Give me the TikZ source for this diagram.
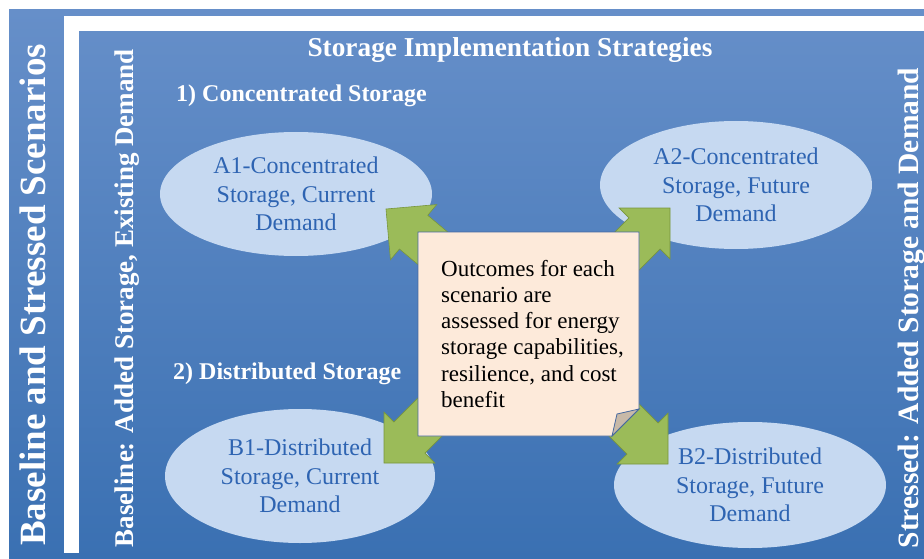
\documentclass[tikz,border=0pt]{standalone}
\usepackage{fontspec}
\setmainfont{Liberation Serif}
\usetikzlibrary{shapes.geometric}

\definecolor{bgtop}{RGB}{102,143,201}
\definecolor{bgbot}{RGB}{58,112,178}
\definecolor{ovalfill}{RGB}{198,217,241}
\definecolor{ovaltext}{RGB}{46,100,178}
\definecolor{arrowgreen}{RGB}{155,187,89}
\definecolor{arrowedge}{RGB}{120,150,60}
\definecolor{notefill}{RGB}{253,234,218}
\definecolor{noteedge}{RGB}{70,105,160}
\definecolor{foldfill}{RGB}{200,185,168}

\begin{document}
\begin{tikzpicture}[x=1pt,y=-1pt,
  scen/.style={ellipse,fill=ovalfill,text=ovaltext,inner sep=0pt,align=center,
    font=\fontsize{24}{28.5}\selectfont},
  heading/.style={text=white,font=\bfseries\fontsize{24}{28}\selectfont,inner sep=0pt},
  sidetext/.style={text=white,rotate=90,inner sep=0pt},
  bigarrow/.style={fill=arrowgreen,draw=arrowedge,line width=0.6pt,line join=miter},
  notebox/.style={fill=notefill,draw=noteedge,line width=0.8pt},
  notetext/.style={align=left,inner sep=0pt,font=\fontsize{23}{26.2}\selectfont}]

\useasboundingbox (0,0) rectangle (924,559);
\shade[top color=bgtop,bottom color=bgbot] (9,10) rectangle (924,559);
\fill[white] (64,16) rectangle (924,31);
\fill[white] (64,16) rectangle (79,553);

\node[sidetext,font=\bfseries\fontsize{37}{40}\selectfont] (scenarios) at (33,295) {Baseline and Stressed Scenarios};
\node[sidetext,font=\bfseries\fontsize{27}{30}\selectfont] (baseline) at (127,298) {Baseline: Added Storage, Existing Demand};
\node[sidetext,font=\bfseries\fontsize{29.5}{32}\selectfont] (stressed) at (912,308) {Stressed: Added Storage and Demand};

\node[heading,font=\bfseries\fontsize{27.3}{30}\selectfont] (title) at (510,50) {Storage Implementation Strategies};
\node[heading,anchor=west] (conc) at (176,96) {1) Concentrated Storage};
\node[heading,anchor=west] (dist) at (173,374) {2) Distributed Storage};

\node[scen,minimum width=272,minimum height=124] (A1) at (296,194) {A1-Concentrated\\Storage, Current\\Demand};
\node[scen,minimum width=272,minimum height=128] (A2) at (736,185) {A2-Concentrated\\Storage, Future\\Demand};
\node[scen,minimum width=270,minimum height=134] (B1) at (300,476) {B1-Distributed\\Storage, Current\\Demand};
\node[scen,minimum width=272,minimum height=126] (B2) at (750,485) {B2-Distributed\\Storage, Future\\Demand};

\coordinate (tA1) at (386,209);
\coordinate (tA2) at (670,208);
\coordinate (tB1) at (384,463);
\coordinate (tB2) at (668,464);
\foreach \t/\ang in {tA1/140,tA2/45,tB1/225,tB2/315}
  \draw[bigarrow,shift={(\t)},rotate=\ang] (0,0) -- (-36,36) -- (-36,22) -- (-85,22)
    -- (-85,-22) -- (-36,-22) -- (-36,-36) -- cycle;

\filldraw[notebox] (418,232) -- (639,232) -- (639,409) -- (612,436) -- (418,436) -- cycle;
\filldraw[notebox,fill=foldfill] (612,436) -- (617,414) -- (639,409) -- cycle;
\node[notetext,anchor=north west] (note) at (441,260) {Outcomes for each\\scenario are\\assessed for energy\\storage capabilities,\\resilience, and cost\\benefit};

\end{tikzpicture}
\end{document}
